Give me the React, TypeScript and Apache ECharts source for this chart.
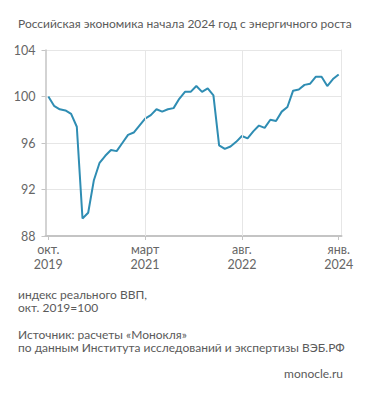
import React, { useEffect, useRef } from "react";
import * as echarts from "echarts";

const months: string[] = [
  "2019-10", "2019-11", "2019-12",
  "2020-01", "2020-02", "2020-03", "2020-04", "2020-05", "2020-06", "2020-07", "2020-08", "2020-09", "2020-10", "2020-11", "2020-12",
  "2021-01", "2021-02", "2021-03", "2021-04", "2021-05", "2021-06", "2021-07", "2021-08", "2021-09", "2021-10", "2021-11", "2021-12",
  "2022-01", "2022-02", "2022-03", "2022-04", "2022-05", "2022-06", "2022-07", "2022-08", "2022-09", "2022-10", "2022-11", "2022-12",
  "2023-01", "2023-02", "2023-03", "2023-04", "2023-05", "2023-06", "2023-07", "2023-08", "2023-09", "2023-10", "2023-11", "2023-12",
  "2024-01",
];

const gdpIndex: number[] = [
  100.0, 99.2, 98.9,
  98.8, 98.5, 97.4, 89.5, 90.0, 92.8, 94.3, 94.9, 95.4, 95.3, 96.0, 96.7,
  96.9, 97.5, 98.1, 98.4, 98.9, 98.7, 98.9, 99.0, 99.8, 100.4, 100.4, 100.9,
  100.4, 100.7, 100.1, 95.8, 95.5, 95.7, 96.1, 96.6, 96.4, 97.0, 97.5, 97.3,
  98.0, 97.9, 98.7, 99.1, 100.5, 100.6, 101.0, 101.1, 101.7, 101.7, 100.9, 101.5,
  101.9,
];

const tickLabels: Record<string, string> = {
  "2019-10": "окт.\n2019",
  "2021-03": "март\n2021",
  "2022-08": "авг.\n2022",
  "2024-01": "янв.\n2024",
};
const gridMonths: string[] = ["2021-03", "2022-08"];

const yTicks = { min: 88, max: 104, interval: 4 };

const titleText = "Российская экономика начала 2024 год с энергичного роста";
const noteLines = ["индекс реального ВВП,", "окт. 2019=100"];
const sourceLines = ["Источник: расчеты «Монокля»", "по данным Института исследований и экспертизы ВЭБ.РФ"];
const brandText = "monocle.ru";

const FONT = "Lato, sans-serif";
const TEXT = "#5a5a5a";
const FS = 12;

export default function App() {
  const ref = useRef<HTMLDivElement>(null);
  useEffect(() => {
    if (!ref.current) return;
    const chart = echarts.init(ref.current, undefined, { renderer: "svg" });
    const showIdx = (i: number) => months[i] in tickLabels;
    const txt = (left: number, top: number, text: string) => ({
      type: "text",
      left,
      top,
      style: { text, fill: TEXT, font: `${FS}px ${FONT}`, lineHeight: 13 },
    });
    chart.setOption({
      animation: false,
      backgroundColor: "#ffffff",
      grid: { left: 45.5, right: 29.5, top: 50, bottom: 161, containLabel: false },
      xAxis: {
        type: "category",
        data: months,
        boundaryGap: true,
        axisLine: { show: true, lineStyle: { color: "#c4c4c4", width: 2 } },
        axisTick: { show: true, alignWithLabel: true, length: 4, interval: (i: number) => showIdx(i), lineStyle: { color: "#c4c4c4" } },
        splitLine: { show: false },
        axisLabel: {
          interval: (i: number) => showIdx(i),
          formatter: (v: string) => tickLabels[v] || "",
          color: "#666",
          fontFamily: FONT,
          fontSize: 12.5,
          lineHeight: 15,
          margin: 6,
        },
      },
      yAxis: [
        {
          type: "value",
          min: yTicks.min,
          max: yTicks.max,
          interval: yTicks.interval,
          axisLine: { show: true, lineStyle: { color: "#c4c4c4", width: 1.5 } },
          axisTick: { show: true, length: 4, lineStyle: { color: "#c4c4c4" } },
          splitLine: { show: true, lineStyle: { color: "#e6e6e6", width: 1 } },
          axisLabel: { color: "#666", fontFamily: FONT, fontSize: 12.5, margin: 10 },
        },
        {
          type: "value",
          position: "right",
          min: yTicks.min,
          max: yTicks.max,
          interval: yTicks.interval,
          axisLine: { show: true, lineStyle: { color: "#e6e6e6", width: 1 } },
          axisTick: { show: false },
          splitLine: { show: false },
          axisLabel: { show: false },
        },
      ],
      series: [
        {
          type: "line",
          data: gdpIndex,
          symbol: "none",
          z: 1,
          lineStyle: { opacity: 0 },
          silent: true,
          markLine: {
            silent: true,
            symbol: "none",
            label: { show: false },
            lineStyle: { color: "#e6e6e6", width: 1, type: "solid" },
            data: gridMonths.map((m) => ({ xAxis: m })),
          },
        },
        {
          type: "line",
          data: gdpIndex,
          symbol: "none",
          z: 3,
          lineStyle: { color: "#2f8db3", width: 2 },
          itemStyle: { color: "#2f8db3" },
        },
      ],
      graphic: [
        txt(18, 17, titleText),
        txt(18, 287.5, noteLines[0]),
        txt(18, 301, noteLines[1]),
        txt(18, 327.5, sourceLines[0]),
        txt(18, 341, sourceLines[1]),
        { type: "text", right: 28, top: 367, style: { text: brandText, fill: TEXT, font: `${FS}px ${FONT}`, lineHeight: 13 } },
      ],
    });
    return () => chart.dispose();
  }, []);
  return <div ref={ref} style={{ width: 371, height: 397, position: "absolute", left: 0, top: 0 }} />;
}
